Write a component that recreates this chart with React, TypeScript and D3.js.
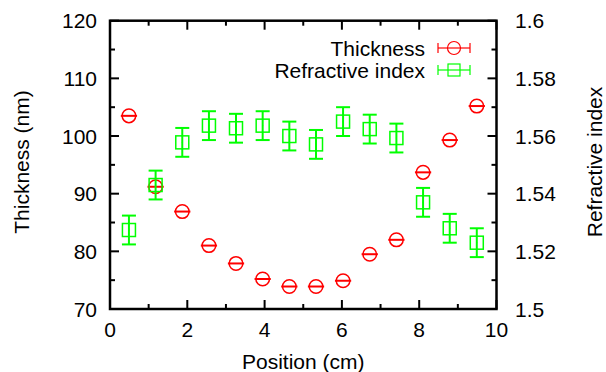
import React from "react";
import * as d3 from "d3";

const positions = [0.49, 1.18, 1.87, 2.56, 3.26, 3.95, 4.64, 5.33, 6.03, 6.72, 7.41, 8.1, 8.79, 9.49];
const thickness = [103.5, 91.2, 86.9, 81.0, 77.9, 75.2, 73.9, 73.9, 74.9, 79.5, 82.0, 93.7, 99.3, 105.2];
const positionErr = [0.21, 0.21, 0.21, 0.21, 0.21, 0.21, 0.21, 0.21, 0.21, 0.21, 0.21, 0.21, 0.21, 0.21];
const refractiveIndex = [1.5274, 1.543, 1.5578, 1.5636, 1.5627, 1.5636, 1.56, 1.5571, 1.565, 1.5624, 1.5593, 1.537, 1.528, 1.523];
const riErr = [0.005, 0.005, 0.005, 0.005, 0.005, 0.005, 0.005, 0.005, 0.005, 0.005, 0.005, 0.005, 0.005, 0.005];

const xTicks = [0, 2, 4, 6, 8, 10];
const xMinor = [1, 3, 5, 7, 9];
const yLTicks = [70, 80, 90, 100, 110, 120];
const yLMinor = [75, 85, 95, 105, 115];
const yRTicks = [1.5, 1.52, 1.54, 1.56, 1.58, 1.6];
const yRMinor = [1.51, 1.53, 1.55, 1.57, 1.59];

const W = 606;
const H = 372;
const L = 110, R = 496.5, T = 20.7, B = 309;
const FONT = "'Liberation Sans', Arial, sans-serif";
const FS = 21;
const RED = "#ff0000";
const GREEN = "#00ff00";

export default function App() {
  const x = d3.scaleLinear().domain([0, 10]).range([L, R]);
  const yL = d3.scaleLinear().domain([70, 120]).range([B, T]);
  const yR = d3.scaleLinear().domain([1.5, 1.6]).range([B, T]);
  const major = 9, minor = 5;
  const fmtR = (v: number) => d3.format("")(+v.toFixed(2));

  return (
    <svg width={W} height={H} style={{ position: "absolute", left: 0, top: 0, background: "#fff" }} fontFamily={FONT}>
      <rect width={W} height={H} fill="#fff" />
      {/* ticks */}
      <g stroke="#000" strokeWidth={2}>
        {xTicks.map((t) => (
          <g key={"xt" + t}>
            <line x1={x(t)} x2={x(t)} y1={B} y2={B - major} />
            <line x1={x(t)} x2={x(t)} y1={T} y2={T + major} />
          </g>
        ))}
        {xMinor.map((t) => (
          <g key={"xm" + t}>
            <line x1={x(t)} x2={x(t)} y1={B} y2={B - minor} />
            <line x1={x(t)} x2={x(t)} y1={T} y2={T + minor} />
          </g>
        ))}
        {yLTicks.map((t) => (
          <line key={"yl" + t} x1={L} x2={L + major} y1={yL(t)} y2={yL(t)} />
        ))}
        {yLMinor.map((t) => (
          <line key={"ylm" + t} x1={L} x2={L + minor} y1={yL(t)} y2={yL(t)} />
        ))}
        {yRTicks.map((t) => (
          <line key={"yr" + t} x1={R} x2={R - major} y1={yR(t)} y2={yR(t)} />
        ))}
        {yRMinor.map((t) => (
          <line key={"yrm" + t} x1={R} x2={R - minor} y1={yR(t)} y2={yR(t)} />
        ))}
      </g>
      {/* tick labels */}
      <g fontSize={FS} fill="#000">
        {xTicks.map((t) => (
          <text key={"xl" + t} x={x(t)} y={337} textAnchor="middle">{t}</text>
        ))}
        {yLTicks.map((t) => (
          <text key={"yll" + t} x={L - 13} y={yL(t)} dy="0.36em" textAnchor="end">{t}</text>
        ))}
        {yRTicks.map((t) => (
          <text key={"yrl" + t} x={R + 18.5} y={yR(t)} dy="0.36em" textAnchor="start">{fmtR(t)}</text>
        ))}
        <text x={(L + R) / 2} y={369} textAnchor="middle">Position (cm)</text>
        <text transform={`translate(29,162) rotate(-90)`} textAnchor="middle">Thickness (nm)</text>
        <text transform={`translate(601.5,162) rotate(-90)`} textAnchor="middle">Refractive index</text>
      </g>
      {/* Thickness series */}
      <g stroke={RED} fill="none">
        {positions.map((p, i) => (
          <g key={"th" + i}>
            <line x1={x(p - positionErr[i])} x2={x(p + positionErr[i])} y1={yL(thickness[i])} y2={yL(thickness[i])} strokeWidth={2} />
            <circle cx={x(p)} cy={yL(thickness[i])} r={6.8} strokeWidth={1.5} />
          </g>
        ))}
      </g>
      {/* Refractive index series */}
      <g stroke={GREEN} fill="none">
        {positions.map((p, i) => {
          const cx = x(p);
          const cy = yR(refractiveIndex[i]);
          const y1 = yR(refractiveIndex[i] - riErr[i]);
          const y2 = yR(refractiveIndex[i] + riErr[i]);
          return (
            <g key={"ri" + i}>
              <line x1={cx} x2={cx} y1={y1} y2={y2} strokeWidth={2} />
              <line x1={cx - 7} x2={cx + 7} y1={y1} y2={y1} strokeWidth={2} />
              <line x1={cx - 7} x2={cx + 7} y1={y2} y2={y2} strokeWidth={2} />
              <rect x={cx - 6.5} y={cy - 6.5} width={13} height={13} strokeWidth={1.5} />
              <rect x={cx - 0.5} y={cy - 0.5} width={1} height={1} fill={GREEN} stroke="none" />
            </g>
          );
        })}
      </g>
      {/* legend */}
      <g fontSize={FS} fill="#000">
        <text x={425} y={48} dy="0.36em" textAnchor="end">Thickness</text>
        <text x={425} y={70} dy="0.36em" textAnchor="end">Refractive index</text>
      </g>
      <g stroke={RED} fill="none" strokeWidth={1.2}>
        <line x1={438} x2={470} y1={48} y2={48} />
        <line x1={438} x2={438} y1={43} y2={53} />
        <line x1={470} x2={470} y1={43} y2={53} />
        <circle cx={454} cy={48} r={6.5} />
      </g>
      <g stroke={GREEN} fill="none" strokeWidth={1.2}>
        <line x1={438} x2={470} y1={70} y2={70} />
        <line x1={438} x2={438} y1={65} y2={75} />
        <line x1={470} x2={470} y1={65} y2={75} />
        <rect x={448} y={64} width={12} height={12} />
      </g>
      {/* frame */}
      <rect x={L} y={T} width={R - L} height={B - T} fill="none" stroke="#000" strokeWidth={2.5} />
    </svg>
  );
}
